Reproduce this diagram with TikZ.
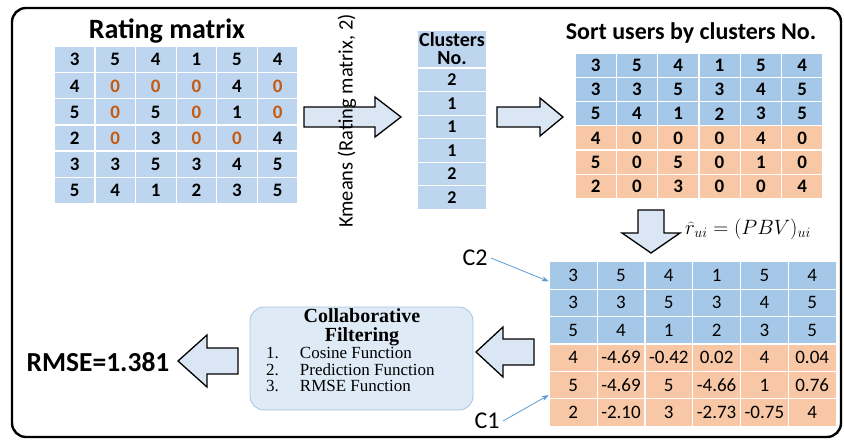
\documentclass[tikz,border=0pt]{standalone}
\usepackage{fontspec}
\setsansfont{Carlito}
\setmainfont{Liberation Serif}
\usetikzlibrary{arrows.meta, calc}
\definecolor{rmblue}{HTML}{BDD5EE}
\definecolor{cellblue}{HTML}{A6C8E8}
\definecolor{cellorange}{HTML}{F7C7A6}
\definecolor{zerocolor}{HTML}{C55A11}
\definecolor{arrowfill}{HTML}{DAE6F4}
\definecolor{cffill}{HTML}{DEEBF7}
\definecolor{cfedge}{HTML}{A8C4E2}
\definecolor{pointer}{HTML}{5B9BD5}
\def\rmw{40.6}
\def\rmh{26.1}
\def\smw{41.3}
\def\smh{24.2}
\def\bmw{47.8}
\def\bmh{27.4}

% block arrow: tail point, angle, length, shaft half, head half, head length
\newcommand{\blockarrow}[6]{%
  \draw[blockarr, shift={(#1)}, rotate=#2]
    (0,-#4) -- ({#3-#6},-#4) -- ({#3-#6},-#5) -- (#3,0)
    -- ({#3-#6},#5) -- ({#3-#6},#4) -- (0,#4) -- cycle;}

\begin{document}
\begin{tikzpicture}[
    x=1pt, y=-1pt,
    every node/.style={font=\sffamily},
    cell/.style={draw=white, line width=1.2pt, inner sep=0pt, anchor=center},
    rmcell/.style={cell, fill=rmblue, minimum width=\rmw pt, minimum height=\rmh pt,
      font=\sffamily\bfseries\fontsize{19}{19}\selectfont},
    clcell/.style={cell, fill=rmblue, minimum width=70pt,
      font=\sffamily\bfseries\fontsize{18}{18}\selectfont},
    smcell/.style={cell, minimum width=\smw pt, minimum height=\smh pt,
      font=\sffamily\bfseries\fontsize{19}{19}\selectfont},
    bmcell/.style={cell, minimum width=\bmw pt, minimum height=\bmh pt,
      font=\sffamily\fontsize{19}{19}\selectfont},
    title/.style={font=\sffamily\bfseries\fontsize{28}{28}\selectfont},
    clabel/.style={font=\sffamily\fontsize{24}{24}\selectfont},
    blockarr/.style={fill=arrowfill, draw=black, line width=1.3pt, line join=miter},
    carr/.style={-{Stealth[length=7pt, width=5pt]}, pointer, line width=0.8pt},
]
\useasboundingbox (0,0) rectangle (844,441);

% ---------------------------------------------------------- frame
\draw[line width=2.4pt, rounded corners=14pt] (12,8) rectangle (841,437);

% ---------------------------------------------------------- block arrows
\blockarrow{304,117}{0}{97}{10}{20}{26}
\blockarrow{497,117}{0}{66}{10}{19}{23}
\blockarrow{651,210}{-90}{43}{13}{29}{20}
\blockarrow{534,352}{180}{58}{13}{25}{27}
\blockarrow{238,361}{180}{60}{13}{26}{29}

% ---------------------------------------------------------- rating matrix
\node[title] (rmtitle) at (167,31) {Rating matrix};
\foreach \row [count=\r] in
    {{3,5,4,1,5,4},{4,0,0,0,4,0},{5,0,5,0,1,0},
     {2,0,3,0,0,4},{3,3,5,3,4,5},{5,4,1,2,3,5}} {
  \foreach \v [count=\c] in \row {
    \ifnum\v=0 \def\tc{zerocolor}\else\def\tc{black}\fi
    \node[rmcell, text=\tc] (rm-\r-\c)
        at ({54.3+(\c-0.5)*\rmw}, {46.7+(\r-0.5)*\rmh}) {\v};
  }
}

% ---------------------------------------------------------- kmeans
\node[rotate=90, font=\sffamily\fontsize{20.5}{20.5}\selectfont] (kmeans)
    at (347,121) {Kmeans (Rating matrix, 2)};

% ---------------------------------------------------------- cluster numbers
\node[clcell, minimum height=38pt, align=center,
      font=\sffamily\bfseries\fontsize{20}{18}\selectfont] (clhead)
    at (452,49) {Clusters\\No.};
\foreach \v [count=\r] in {2,1,1,1,2,2} {
  \node[clcell, minimum height=23.5pt] (cl-\r) at (452, {68.3+(\r-0.5)*23.5}) {\v};
}

% ---------------------------------------------------------- sorted matrix
\node[title, font=\sffamily\bfseries\fontsize{24}{24}\selectfont] (smtitle)
    at (691,33) {Sort users by clusters No.};
\foreach \row [count=\r] in
    {{3,5,4,1,5,4},{3,3,5,3,4,5},{5,4,1,2,3,5},
     {4,0,0,0,4,0},{5,0,5,0,1,0},{2,0,3,0,0,4}} {
  \foreach \v [count=\c] in \row {
    \ifnum\r>3 \def\fc{cellorange}\else\def\fc{cellblue}\fi
    \node[smcell, fill=\fc] (sm-\r-\c)
        at ({575+(\c-0.5)*\smw}, {53.3+(\r-0.5)*\smh}) {\v};
  }
}

% ---------------------------------------------------------- predicted matrix
\node[font=\fontsize{21}{21}\selectfont, anchor=west, inner sep=0pt] (pbv)
    at (685,229) {$\widehat{r}_{ui}=(PBV)_{ui}$};
\foreach \row [count=\r] in
    {{3,5,4,1,5,4},{3,3,5,3,4,5},{5,4,1,2,3,5},
     {4,-4.69,-0.42,0.02,4,0.04},{5,-4.69,5,-4.66,1,0.76},
     {2,-2.10,3,-2.73,-0.75,4}} {
  \foreach \v [count=\c] in \row {
    \ifnum\r>3 \def\fc{cellorange}\else\def\fc{cellblue}\fi
    \node[bmcell, fill=\fc] (bm-\r-\c)
        at ({549.3+(\c-0.5)*\bmw}, {261.7+(\r-0.5)*\bmh}) {\v};
  }
}

% ---------------------------------------------------------- cluster pointers
\node[clabel] (c2) at (475,258) {C2};
\node[clabel] (c1) at (487,421) {C1};
\draw[carr] (c2.east) -- ([yshift=-6pt]bm-1-1.west);
\draw[carr] (c1.east) -- ([yshift=3pt]bm-6-1.north west);

% ---------------------------------------------------------- collaborative filtering
\node[draw=cfedge, fill=cffill, line width=0.8pt, rounded corners=14pt,
      minimum width=223pt, minimum height=103pt] (cf) at (361.5,358.5) {};
\node[font=\rmfamily\bfseries\fontsize{20}{19}\selectfont, align=center] (cftitle)
    at (362,327) {Collaborative\\Filtering};
\node[font=\rmfamily\fontsize{17}{16.5}\selectfont, anchor=north west, inner sep=0pt]
    (cflist) at (266,347) {%
  \begin{tabular}{@{}l@{\hspace{21pt}}l@{}}
    1. & Cosine Function\\
    2. & Prediction Function\\
    3. & RMSE Function
  \end{tabular}};

% ---------------------------------------------------------- result
\node[font=\sffamily\bfseries\fontsize{27.5}{27.5}\selectfont] (rmse) at (98,362)
    {RMSE=1.381};

\end{tikzpicture}
\end{document}
